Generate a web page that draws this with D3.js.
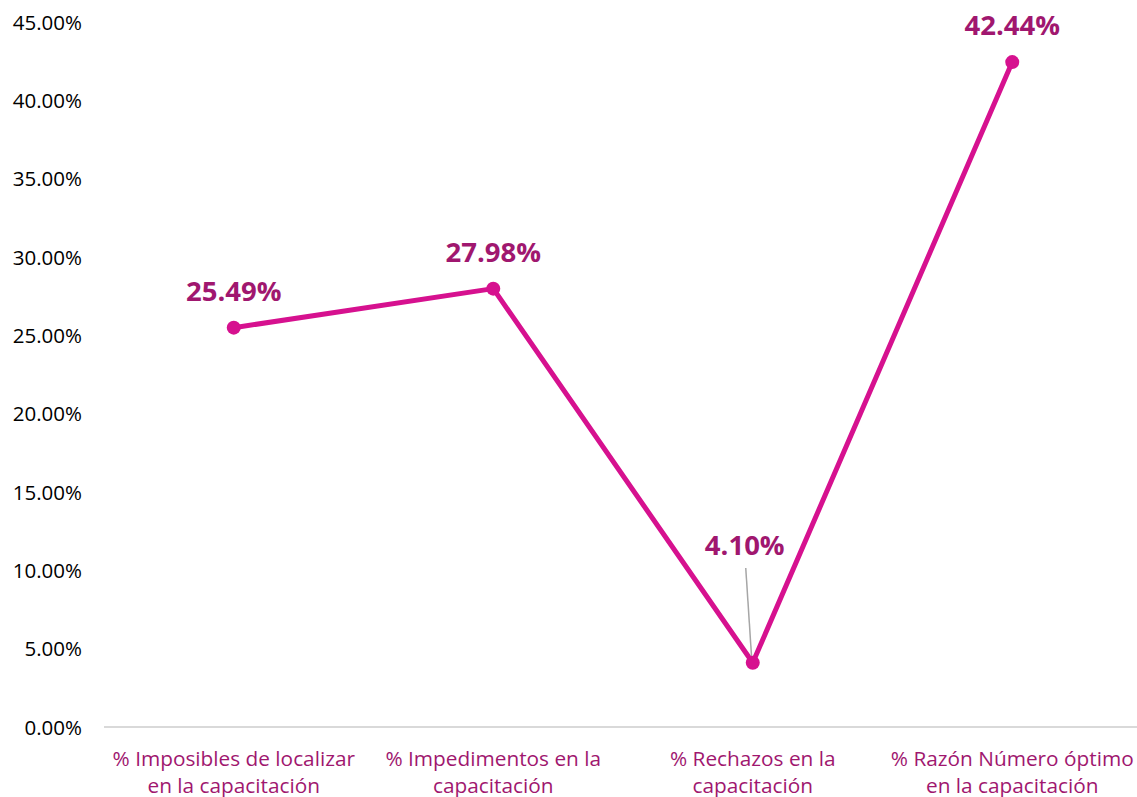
<!DOCTYPE html>
<html><head><meta charset="utf-8">
<script src="https://cdn.jsdelivr.net/npm/d3@7"></script>
<style>html,body{margin:0;padding:0;background:#fff;overflow:hidden}</style>
</head><body>
<svg id="c" width="1137" height="797"></svg>
<script>
const categories = [
  ["% Imposibles de localizar", "en la capacitación"],
  ["% Impedimentos en la", "capacitación"],
  ["% Rechazos en la", "capacitación"],
  ["% Razón Número óptimo", "en la capacitación"]
];
const values = [25.49, 27.98, 4.10, 42.44];
const yTicks = [0, 5, 10, 15, 20, 25, 30, 35, 40, 45];

const svg = d3.select("#c");
const font = "'Open Sans', sans-serif";
const x = d3.scaleBand().domain(d3.range(categories.length)).range([104, 1142]);
const y = d3.scaleLinear().domain([0, 45]).range([727, 22]);
const cx = i => x(i) + x.bandwidth() / 2;

// y axis labels
const yAxis = d3.axisLeft(y).tickValues(yTicks).tickSize(0).tickPadding(0)
  .tickFormat(d => d3.format(".2f")(d) + "%");
const gy = svg.append("g").attr("transform", "translate(82,0)").call(yAxis);
gy.select(".domain").remove();
gy.selectAll("text").attr("font-family", font).attr("font-size", 20.5).attr("fill", "#000").attr("dy", "0.35em");

// x axis line
svg.append("line").attr("x1", 104).attr("x2", 1137).attr("y1", y(0)).attr("y2", y(0))
  .attr("stroke", "#d9d9d9").attr("stroke-width", 2);

// x labels
const gx = svg.append("g");
categories.forEach((c, i) => {
  const t = gx.append("text").attr("text-anchor", "middle").attr("font-family", font)
    .attr("font-size", 20.8).attr("fill", "#a0176f");
  c.forEach((line, j) => t.append("tspan").attr("x", cx(i)).attr("y", 766 + j * 27).text(line));
});

// line
const line = d3.line().x((d, i) => cx(i)).y(d => y(d));
svg.append("path").datum(values).attr("d", line).attr("fill", "none")
  .attr("stroke", "#d6118f").attr("stroke-width", 5).attr("stroke-linejoin", "round");

// leader line for 4.10%
svg.append("line").attr("x1", cx(2) - 7).attr("y1", 568).attr("x2", cx(2) - 1).attr("y2", y(values[2]) - 3)
  .attr("stroke", "#a6a6a6").attr("stroke-width", 1.5);

svg.selectAll("circle.pt").data(values).join("circle").attr("class", "pt")
  .attr("cx", (d, i) => cx(i)).attr("cy", d => y(d)).attr("r", 7).attr("fill", "#d6118f");

// data labels
const labelOffsets = [[0, -27], [0, -27], [-8, -108], [0, -27]];
svg.selectAll("text.lbl").data(values).join("text").attr("class", "lbl")
  .attr("x", (d, i) => cx(i) + labelOffsets[i][0])
  .attr("y", (d, i) => y(d) + labelOffsets[i][1])
  .attr("text-anchor", "middle").attr("font-family", font).attr("font-weight", "bold")
  .attr("font-size", 27.5).attr("fill", "#a0176f")
  .text(d => d3.format(".2f")(d) + "%");
</script>
</body></html>
